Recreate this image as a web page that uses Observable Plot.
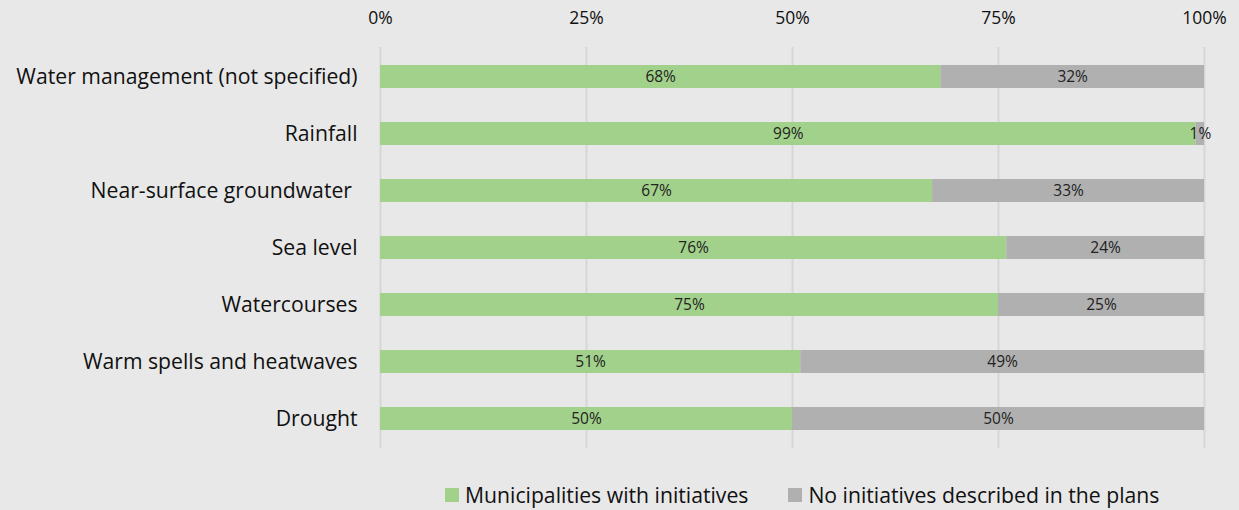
<!DOCTYPE html>
<html>
<head>
<meta charset="utf-8">
<script src="https://cdn.jsdelivr.net/npm/d3@7"></script>
<script src="https://cdn.jsdelivr.net/npm/@observablehq/plot@0.6"></script>
<style>
  html, body { margin: 0; padding: 0; background: #e8e8e8; }
  body { width: 1239px; height: 510px; overflow: hidden; font-family: "Open Sans", sans-serif; }
  #legend { display: flex; gap: 40px; position: absolute; left: 445px; top: 480px; font-size: 21.2px; color: #111; align-items: center; }
  #legend .item { display: flex; align-items: center; gap: 6px; }
  #legend .sw { width: 14px; height: 14px; display: inline-block; }
</style>
</head>
<body>
<div id="chart"></div>
<div id="legend"></div>
<script>
const categories = ["Water management (not specified)", "Rainfall", "Near-surface groundwater\u00a0", "Sea level", "Watercourses", "Warm spells and heatwaves", "Drought"];
const seriesNames = ["Municipalities with initiatives", "No initiatives described in the plans"];
const withInitiatives = [68, 99, 67, 76, 75, 51, 50];
const noInitiatives = [32, 1, 33, 24, 25, 49, 50];
const tickValues = [0, 25, 50, 75, 100];
const colors = ["#a2d18b", "#b0b0b0"];

const data = [];
categories.forEach((c, i) => {
  data.push({category: c, series: seriesNames[0], value: withInitiatives[i]});
  data.push({category: c, series: seriesNames[1], value: noInitiatives[i]});
});

const chart = Plot.plot({
  width: 1239,
  height: 465,
  marginTop: 47,
  marginBottom: 17,
  marginLeft: 380,
  marginRight: 35,
  style: {background: "#e8e8e8", fontFamily: "'Open Sans', sans-serif", color: "#111"},
  x: {domain: [0, 100], axis: "top", ticks: tickValues, tickFormat: d => d + "%", tickSize: 0, tickPadding: 24, label: null},
  y: {domain: categories, paddingInner: 0.6, paddingOuter: 0.3, tickSize: 0, tickPadding: 23, label: null},
  color: {domain: seriesNames, range: colors},
  marks: [
    Plot.ruleX(tickValues, {stroke: "#d6d6d6", strokeWidth: 2}),
    Plot.barX(data, {x: "value", y: "category", fill: "series", z: "series"}),
    Plot.text(data, Plot.stackX({x: "value", y: "category", z: "series", text: d => d.value + "%", fontSize: 15.5, fill: "#222"}))
  ]
});
chart.querySelectorAll("g[aria-label='x-axis tick label']").forEach(e => e.setAttribute("font-size", 17.5));
chart.querySelectorAll("g[aria-label='y-axis tick label']").forEach(e => e.setAttribute("font-size", 21.2));
document.getElementById("chart").appendChild(chart);

const legend = document.getElementById("legend");
seriesNames.forEach((s, i) => {
  const item = document.createElement("div");
  item.className = "item";
  const sw = document.createElement("span");
  sw.className = "sw";
  sw.style.background = colors[i];
  const t = document.createElement("span");
  t.textContent = s;
  item.appendChild(sw);
  item.appendChild(t);
  legend.appendChild(item);
});
</script>
</body>
</html>
